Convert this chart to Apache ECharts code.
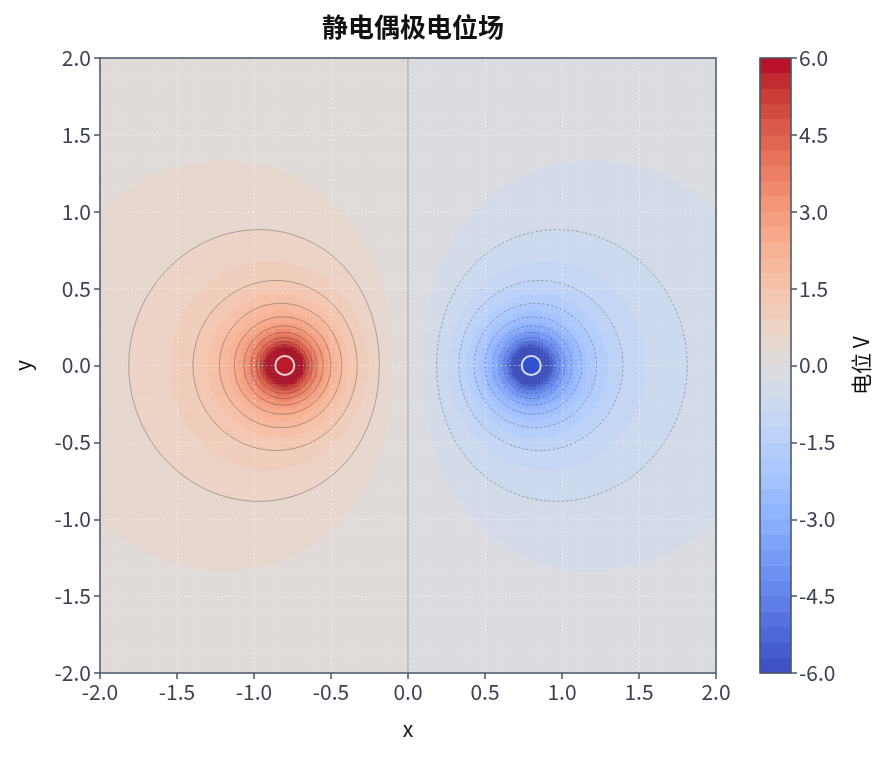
<!DOCTYPE html>
<html>
<head>
<meta charset="utf-8">
<script src="https://cdn.jsdelivr.net/npm/echarts@6/dist/echarts.min.js"></script>
<style>
html, body { margin: 0; padding: 0; background: #fff; }
#main { width: 891px; height: 758px; }
</style>
</head>
<body>
<div id="main"></div>
<script>
// point charges of the dipole
var chargeX = [-0.8, 0.8];
var chargeY = [0, 0];
var chargeQ = [1, -1];
var softening = 0.1;

// sampled window and grid spacing
var xRange = [-2, 2];
var yRange = [-2, 2];
var cellCount = 200;

// filled bands (40 of 0.3 V) and contour lines (every 0.6 V)
var bandEdges = [];
for (var b = 0; b <= 40; b++) bandEdges.push(+(-6 + b * 0.3).toFixed(2));
var lineLevels = [];
for (var l = 0; l <= 30; l++) lineLevels.push(+(-9 + l * 0.6).toFixed(2));

var axisTicks = [-2.0, -1.5, -1.0, -0.5, 0.0, 0.5, 1.0, 1.5, 2.0];
var colorbarTicks = [-6.0, -4.5, -3.0, -1.5, 0.0, 1.5, 3.0, 4.5, 6.0];

// coolwarm stops
var coolwarm = [
  [59,76,192],[68,90,204],[77,104,215],[87,117,225],[98,130,234],[108,142,241],
  [119,154,247],[130,165,251],[141,176,254],[152,185,255],[163,194,255],[174,201,253],
  [184,208,249],[194,213,244],[204,217,238],[213,219,230],[221,221,221],[229,216,209],
  [236,211,197],[241,204,184],[245,196,172],[247,187,160],[247,177,148],[247,166,137],
  [244,154,123],[241,141,111],[236,127,99],[229,112,88],[222,96,77],[213,80,66],
  [203,62,56],[192,40,47],[180,4,38]
];
function cmap(t) {
  t = Math.max(0, Math.min(1, t)) * (coolwarm.length - 1);
  var i = Math.min(Math.floor(t), coolwarm.length - 2), f = t - i;
  var a = coolwarm[i], c = coolwarm[i + 1];
  return 'rgb(' + [0, 1, 2].map(function (k) { return Math.round(a[k] + (c[k] - a[k]) * f); }).join(',') + ')';
}

function potential(x, y) {
  var v = 0;
  for (var k = 0; k < chargeX.length; k++) {
    var dx = x - chargeX[k], dy = y - chargeY[k];
    v += chargeQ[k] / Math.sqrt(dx * dx + dy * dy + softening * softening);
  }
  return v;
}

var step = (xRange[1] - xRange[0]) / cellCount;

// heatmap cells (cell centres)
var cats = [], heat = [];
for (var i = 0; i < cellCount; i++) cats.push(String(i));
for (var j = 0; j < cellCount; j++) {
  for (var i2 = 0; i2 < cellCount; i2++) {
    var cx = xRange[0] + (i2 + 0.5) * step, cy = yRange[0] + (j + 0.5) * step;
    heat.push([i2, j, potential(cx, cy)]);
  }
}

// node values for the contour lines
var nodes = [];
for (var jn = 0; jn <= cellCount; jn++) {
  var row = [];
  for (var iN = 0; iN <= cellCount; iN++) row.push(potential(xRange[0] + iN * step, yRange[0] + jn * step));
  nodes.push(row);
}

function contour(level) {
  var pts = {}, segs = [];
  function edge(key, x0, y0, v0, x1, y1, v1) {
    if (!pts[key]) {
      var t = (level - v0) / (v1 - v0);
      pts[key] = [x0 + (x1 - x0) * t, y0 + (y1 - y0) * t];
    }
    return key;
  }
  for (var j = 0; j < cellCount; j++) {
    for (var i = 0; i < cellCount; i++) {
      var x0 = xRange[0] + i * step, x1 = x0 + step, y0 = yRange[0] + j * step, y1 = y0 + step;
      var a = nodes[j][i], b = nodes[j][i + 1], c = nodes[j + 1][i + 1], d = nodes[j + 1][i];
      var e = [];
      if ((a >= level) !== (b >= level)) e.push(edge('h' + i + '_' + j, x0, y0, a, x1, y0, b));
      if ((b >= level) !== (c >= level)) e.push(edge('v' + (i + 1) + '_' + j, x1, y0, b, x1, y1, c));
      if ((d >= level) !== (c >= level)) e.push(edge('h' + i + '_' + (j + 1), x0, y1, d, x1, y1, c));
      if ((a >= level) !== (d >= level)) e.push(edge('v' + i + '_' + j, x0, y0, a, x0, y1, d));
      if (e.length === 2) segs.push(e);
      else if (e.length === 4) { segs.push([e[0], e[3]]); segs.push([e[1], e[2]]); }
    }
  }
  var adj = {};
  segs.forEach(function (s, k) {
    (adj[s[0]] = adj[s[0]] || []).push(k);
    (adj[s[1]] = adj[s[1]] || []).push(k);
  });
  var used = [], out = [];
  function grow(chain, atEnd) {
    while (true) {
      var key = atEnd ? chain[chain.length - 1] : chain[0];
      var next = (adj[key] || []).filter(function (k) { return !used[k]; })[0];
      if (next === undefined) return;
      used[next] = true;
      var s = segs[next], other = s[0] === key ? s[1] : s[0];
      if (atEnd) chain.push(other); else chain.unshift(other);
    }
  }
  for (var k = 0; k < segs.length; k++) {
    if (used[k]) continue;
    used[k] = true;
    var chain = [segs[k][0], segs[k][1]];
    grow(chain, true);
    grow(chain, false);
    out.push({ coords: chain.map(function (key) { return pts[key]; }) });
  }
  return out;
}

var solidLines = [], dashedLines = [];
lineLevels.forEach(function (lv) {
  var polys = contour(lv);
  if (lv < 0) dashedLines = dashedLines.concat(polys);
  else solidLines = solidLines.concat(polys);
});

// colour pieces
var pieces = [];
for (var p = 0; p < bandEdges.length - 1; p++) {
  var piece = { color: cmap((p + 0.5) / (bandEdges.length - 1)) };
  if (p > 0) piece.gte = bandEdges[p];
  if (p < bandEdges.length - 2) piece.lt = bandEdges[p + 1];
  pieces.push(piece);
}
var barCats = [], barData = [];
for (var q = 0; q < bandEdges.length - 1; q++) {
  barCats.push(String(q));
  barData.push([0, q, (bandEdges[q] + bandEdges[q + 1]) / 2]);
}

var charges = chargeX.map(function (x, k) {
  return { value: [x, chargeY[k]], itemStyle: { color: chargeQ[k] > 0 ? '#bd1a26' : '#2a50d4' } };
});

var font = '"Noto Sans CJK SC", "Noto Sans", sans-serif';
var axisCol = '#4a5568';
var labelCol = '#3b4252';
var fmt = function (v) { return v.toFixed(1); };
var gridLine = { show: true, lineStyle: { color: 'rgba(255,255,255,0.55)', type: [1.5, 3], width: 1.2 } };

var chart = echarts.init(document.getElementById('main'));
chart.setOption({
  animation: false,
  textStyle: { fontFamily: font },
  title: {
    text: '静电偶极电位场', left: 408, textAlign: 'center', top: 9,
    textStyle: { fontSize: 26, fontWeight: 'bold', color: '#111', fontFamily: font }
  },
  visualMap: { type: 'piecewise', show: false, seriesIndex: [0, 1], pieces: pieces },
  grid: [
    { left: 100, top: 58, width: 616, height: 615, show: true, backgroundColor: 'transparent',
      borderColor: axisCol, borderWidth: 1.5, z: 10, outerBoundsMode: 'none', containLabel: false },
    { left: 760, top: 58, width: 31, height: 615, show: true, backgroundColor: 'transparent',
      borderColor: axisCol, borderWidth: 1.5, z: 10, outerBoundsMode: 'none', containLabel: false }
  ],
  xAxis: [
    { type: 'category', gridIndex: 0, data: cats, show: false, position: 'top' },
    {
      type: 'value', gridIndex: 0, position: 'bottom', min: xRange[0], max: xRange[1], interval: 0.5, z: 5,
      name: 'x', nameLocation: 'middle', nameGap: 46,
      nameTextStyle: { fontSize: 21, color: '#111', fontFamily: font },
      axisLine: { show: false, onZero: false },
      axisTick: { show: true, length: 6, lineStyle: { color: axisCol, width: 1.5 } },
      axisLabel: { fontSize: 21, color: labelCol, margin: 9, formatter: fmt },
      splitLine: gridLine
    },
    { type: 'category', gridIndex: 1, data: ['0'], show: false, position: 'top' }
  ],
  yAxis: [
    { type: 'category', gridIndex: 0, data: cats, show: false, position: 'right' },
    {
      type: 'value', gridIndex: 0, position: 'left', min: yRange[0], max: yRange[1], interval: 0.5, z: 5,
      name: 'y', nameLocation: 'middle', nameGap: 66, nameRotate: 90,
      nameTextStyle: { fontSize: 21, color: '#111', fontFamily: font },
      axisLine: { show: false, onZero: false },
      axisTick: { show: true, length: 6, lineStyle: { color: axisCol, width: 1.5 } },
      axisLabel: { fontSize: 21, color: labelCol, margin: 9, formatter: fmt },
      splitLine: gridLine
    },
    { type: 'category', gridIndex: 1, data: barCats, show: false, position: 'left' },
    {
      type: 'value', gridIndex: 1, min: -6, max: 6, interval: 1.5, position: 'right', z: 5,
      name: '电位 V', nameLocation: 'middle', nameGap: 60, nameRotate: 90,
      nameTextStyle: { fontSize: 21, color: '#111', fontFamily: font },
      axisLine: { show: false, onZero: false },
      axisTick: { show: true, length: 6, lineStyle: { color: axisCol, width: 1.5 } },
      axisLabel: { fontSize: 21, color: labelCol, margin: 8, formatter: fmt },
      splitLine: { show: false }
    }
  ],
  series: [
    {
      type: 'heatmap', xAxisIndex: 0, yAxisIndex: 0, data: heat, progressive: 0,
      itemStyle: { borderWidth: 0 }, emphasis: { disabled: true }
    },
    {
      type: 'heatmap', xAxisIndex: 2, yAxisIndex: 2, data: barData, progressive: 0,
      emphasis: { disabled: true }
    },
    {
      type: 'lines', coordinateSystem: 'cartesian2d', xAxisIndex: 1, yAxisIndex: 1, polyline: true, z: 6,
      silent: true, data: solidLines,
      lineStyle: { color: '#444', width: 0.6, opacity: 0.65 }
    },
    {
      type: 'lines', coordinateSystem: 'cartesian2d', xAxisIndex: 1, yAxisIndex: 1, polyline: true, z: 6,
      silent: true, data: dashedLines,
      lineStyle: { color: '#444', width: 0.6, opacity: 0.65, type: [2.5, 2] }
    },
    {
      type: 'scatter', xAxisIndex: 1, yAxisIndex: 1, z: 8, data: charges, symbolSize: 19,
      itemStyle: { borderColor: '#fff', borderWidth: 2 }, emphasis: { disabled: true }
    }
  ]
});
</script>
</body>
</html>
